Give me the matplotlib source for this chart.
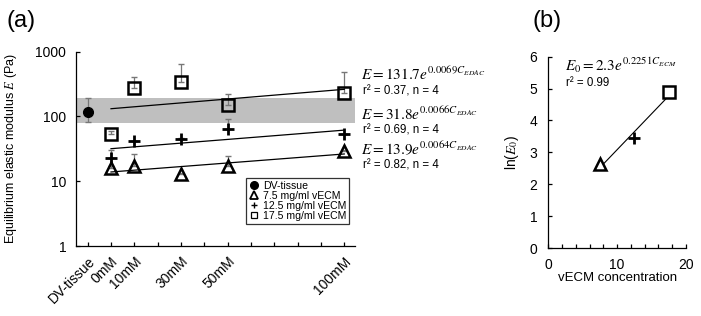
import numpy as np
import matplotlib
matplotlib.use("Agg")
import matplotlib.pyplot as plt
from matplotlib.lines import Line2D

plt.rcParams['font.family'] = ['Liberation Sans', 'DejaVu Sans']
plt.rcParams['mathtext.fontset'] = 'stix'

# ---------------- data ----------------
conc = [0, 10, 30, 50, 100]
tick_pos = [-10, 0, 10, 30, 50, 100]
tick_labels = ['DV-tissue', '0mM', '10mM', '30mM', '50mM', '100mM']

dv_x = -10
dv_mean = 119
dv_err_lo = 38
dv_err_hi = 73
band_lo = 79
band_hi = 194

e75 = [16.1, 17.4, 12.9, 17.4, 29.5]
e75_err = [1.0, 9.0, 0.5, 7.0, 0.5]
e125 = [22.9, 41.3, 45.5, 64.0, 54.0]
e125_err = [7.0, 0.5, 0.5, 28.0, 0.5]
e175 = [53.6, 273, 338, 151, 234]
e175_err = [6.0, 140, 300, 70, 250]

fit_a = [13.9, 31.8, 131.7]
fit_b = [0.0064, 0.0066, 0.0069]
fit_r2 = [0.82, 0.69, 0.37]
fit_n = [4, 4, 4]

ecm = [7.5, 12.5, 17.5]
ln_e0 = [2.63, 3.46, 4.88]
e0_a = 2.3
e0_b = 0.2251
e0_r2 = 0.99

legend_labels = ['DV-tissue', '7.5 mg/ml vECM', '12.5 mg/ml vECM', '17.5 mg/ml vECM']

# ---------------- figure ----------------
fig = plt.figure(figsize=(7.01, 3.16), dpi=100)
W, H = 701, 316

def fx(px):
    return px / W

def fy(py):
    return 1 - py / H

ax = fig.add_axes([fx(76), fy(246), (355 - 76) / W, (246 - 51.7) / H])
ax.set_yscale('log')
ax.set_xlim(-15, 104.6)
ax.set_ylim(1, 1000)

ax.axhspan(band_lo, band_hi, color='#bfbfbf', lw=0, zorder=0)

ecol = '#777777'
ax.errorbar([dv_x], [dv_mean], yerr=[[dv_err_lo], [dv_err_hi]], fmt='o', color='black',
            ms=7, ecolor=ecol, elinewidth=0.9, capsize=2, zorder=3)

def plot_series(y, err, marker, ms, mew):
    y = np.array(y)
    ax.errorbar(conc, y, yerr=[np.zeros_like(y), np.array(err)], fmt='none',
                ecolor=ecol, elinewidth=0.9, capsize=2, zorder=2)
    ax.plot(conc, y, linestyle='none', marker=marker, ms=ms, mew=mew,
            mfc='none' if marker != '+' else 'black', mec='black', zorder=4)

plot_series(e75, e75_err, '^', 8, 1.8)
plot_series(e125, e125_err, '+', 8, 2.0)
plot_series(e175, e175_err, 's', 8.5, 1.8)

xf = np.array([conc[0], conc[-1]])
for a, b in zip(fit_a, fit_b):
    ax.plot(xf, a * np.exp(b * xf), color='black', lw=0.9, zorder=3)

ax.set_yticks([1, 10, 100, 1000])
ax.set_yticklabels(['1', '10', '100', '1000'])
ax.yaxis.set_minor_locator(matplotlib.ticker.NullLocator())
ax.set_xticks(tick_pos)
ax.set_xticklabels(tick_labels, rotation=45, ha='right', va='top', rotation_mode='anchor')
ax.set_xticks([20, 40, 60, 70, 80, 90], minor=True)
ax.tick_params(axis='both', which='both', direction='in', length=3, width=0.9, labelsize=10)
ax.tick_params(axis='y', pad=7)
ax.tick_params(axis='x', pad=6)
for s in ['top', 'right']:
    ax.spines[s].set_visible(False)
for s in ['left', 'bottom']:
    ax.spines[s].set_linewidth(0.9)

fig.text(fx(11), fy(148.5), 'Equilibrium elastic modulus $E$ (Pa)', rotation=90,
         ha='center', va='center', fontsize=9)

handles = [
    Line2D([], [], ls='none', marker='o', ms=5.5, color='black'),
    Line2D([], [], ls='none', marker='^', ms=5.5, mfc='none', mec='black', mew=1.3),
    Line2D([], [], ls='none', marker='+', ms=5, color='black', mew=1.0),
    Line2D([], [], ls='none', marker='s', ms=5, mfc='none', mec='black', mew=0.9),
]
leg = ax.legend(handles, legend_labels, loc='lower right', bbox_to_anchor=(0.98, 0.113),
                fontsize=7.6, frameon=True, fancybox=False, handlelength=0.8,
                handletextpad=0.5, labelspacing=0.0, borderpad=0.28, borderaxespad=0)
leg.get_frame().set_edgecolor('black')
leg.get_frame().set_linewidth(0.9)

eq_base = [155, 120, 80]
r2_base = [168.5, 133.5, 94.5]
for a, b, r2, n, yb, yr in zip(fit_a, fit_b, fit_r2, fit_n, eq_base, r2_base):
    fig.text(fx(361), fy(yb), r'$E = %.1fe^{%.4fC_{EDAC}}$' % (a, b), fontsize=11,
             ha='left', va='baseline')
    fig.text(fx(363), fy(yr), 'r\u00b2 = %.2f, n = %d' % (r2, n), fontsize=8.3,
             ha='left', va='baseline')

fig.text(fx(21), fy(21), '(a)', fontsize=17, ha='center', va='center')
fig.text(fx(547), fy(21), '(b)', fontsize=17, ha='center', va='center')

# ---------------- panel b ----------------
bx = fig.add_axes([fx(548.3), fy(248), (686 - 548.3) / W, (248 - 56.7) / H])
bx.set_xlim(0, 20)
bx.set_ylim(0, 6)
xl = np.array([ecm[0], ecm[-1]])
bx.plot(xl, np.log(e0_a) + e0_b * xl, color='black', lw=0.8, zorder=2)
bx.plot([ecm[0]], [ln_e0[0]], ls='none', marker='^', ms=8.5, mfc='white', mec='black', mew=1.8, zorder=3)
bx.plot([ecm[1]], [ln_e0[1]], ls='none', marker='+', ms=8, color='black', mew=2.0, zorder=3)
bx.plot([ecm[2]], [ln_e0[2]], ls='none', marker='s', ms=8.5, mfc='white', mec='black', mew=1.8, zorder=3)
bx.set_xticks([0, 10, 20])
bx.set_xticks(np.arange(0, 21, 2), minor=True)
bx.set_yticks(range(0, 7))
bx.tick_params(axis='both', which='both', direction='in', length=3, width=0.9, labelsize=10)
bx.tick_params(axis='y', pad=8)
bx.tick_params(axis='x', pad=7)
for s in ['top', 'right']:
    bx.spines[s].set_visible(False)
for s in ['left', 'bottom']:
    bx.spines[s].set_linewidth(0.9)
bx.set_xlabel('vECM concentration', fontsize=9.5, labelpad=0)
fig.text(fx(512), fy(152), 'ln($E_0$)', rotation=90, ha='center', va='center', fontsize=10)
fig.text(fx(565), fy(70.5), r'$E_0 = %.1fe^{%.4fC_{ECM}}$' % (e0_a, e0_b), fontsize=11,
         ha='left', va='baseline')
fig.text(fx(565.5), fy(86), 'r\u00b2 = %.2f' % e0_r2, fontsize=8.3, ha='left', va='baseline')

fig.savefig('out.png', dpi=100)
